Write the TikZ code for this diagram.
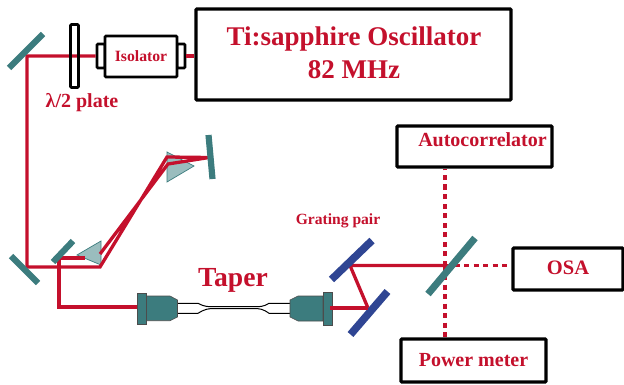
\documentclass[tikz,border=0pt]{standalone}
\usepackage{fontspec}
\setmainfont{Liberation Serif}
\definecolor{beam}{HTML}{C4102C}
\definecolor{teal1}{HTML}{3C7C7E}
\definecolor{prismc}{HTML}{9ABDBE}
\definecolor{blue1}{HTML}{2F4593}
\begin{document}
\begin{tikzpicture}[x=1pt,y=-1pt,
  box/.style={draw=black,line width=3.2pt,rounded corners=0.8pt,fill=white,inner sep=0pt},
  smallbox/.style={draw=black,line width=2.8pt,rounded corners=1pt,fill=white,inner sep=0pt},
  lbl/.style={text=beam,font=\bfseries,inner sep=0pt},
  beamline/.style={draw=beam,line width=3.3pt,line join=miter},
  dotbeam/.style={draw=beam,line width=3.6pt,dash pattern=on 5pt off 4.5pt},
  mirror/.style={draw=teal1,line width=6.2pt},
  grating/.style={draw=blue1,line width=7.6pt},
  prism/.style={draw=teal1,line width=0.7pt,fill=prismc},
  connbody/.style={draw=black!70,line width=0.6pt,fill=teal1},
  fibre/.style={draw=black,line width=1pt,fill=white}]
\useasboundingbox (0,0) rectangle (624,385);
% coordinates of the beam path
\coordinate (m1) at (27,56);
\coordinate (m2) at (27,267);
\coordinate (p1) at (100,267);
\coordinate (p1b) at (100,254);
\coordinate (p2) at (167,157);
\coordinate (p2b) at (168,164);
\coordinate (m3) at (209,157.5);
\coordinate (p3) at (85,258);
\coordinate (m4) at (59,258);
\coordinate (c1) at (59,307);
\coordinate (g1) at (350,265.5);
\coordinate (g2) at (368,308);
\coordinate (bs) at (445,265.5);
% prisms (under the beams)
\draw[prism] (77,255) -- (101,241) -- (101,265) -- cycle;
\draw[prism] (167,152) -- (194,166) -- (167,182) -- cycle;
% boxes
\node[box,minimum width=315pt,minimum height=91pt] (osc) at (353.5,54.5) {};
\node[lbl,font=\bfseries\fontsize{27}{33}\selectfont,align=center] (osct) at (354,53) {Ti:sapphire Oscillator\\82 MHz};
\node[smallbox,minimum width=8pt,minimum height=24pt] (isoL) at (101,56) {};
\node[smallbox,minimum width=8pt,minimum height=24pt] (isoR) at (181,56) {};
\node[smallbox,minimum width=72pt,minimum height=41pt] (iso) at (141,56.5) {};
\node[lbl,font=\bfseries\fontsize{15.7}{18}\selectfont] (isot) at (141,56) {Isolator};
\node[box,minimum width=155pt,minimum height=41pt] (ac) at (474.5,146.5) {};
\node[lbl,font=\bfseries\fontsize{20}{23}\selectfont] (act) at (482.5,140) {Autocorrelator};
\node[box,minimum width=110pt,minimum height=42pt] (osa) at (568,269) {};
\node[lbl,font=\bfseries\fontsize{20.5}{24}\selectfont] (osat) at (568,268) {OSA};
\node[box,minimum width=145pt,minimum height=43pt] (pm) at (473.5,360.5) {};
\node[lbl,font=\bfseries\fontsize{20}{23}\selectfont] (pmt) at (473.5,360) {Power meter};
% beam path
\draw[beamline] (isoR.east) -- (osc.west |- isoR.east);
\draw[beamline] (isoL.west) -- (m1) -- (m2) -- (p1) -- (p2) -- (m3) -- (p2b) -- (p1b);
\draw[beamline] (p3) -- (m4) -- (c1) -- (137,307);
\draw[beamline] (g2) -- (g1) -- (bs);
\draw[dotbeam] (bs) -- (bs |- ac.south);
\draw[dotbeam] (bs) -- (bs |- pm.north);
\draw[dotbeam] (bs) -- (osa.west |- bs);
% half-wave plate
\node[smallbox,fill=none,minimum width=8pt,minimum height=63pt] (hwp) at (74.5,56) {};
\node[lbl,font=\bfseries\fontsize{20}{23}\selectfont] (hwpt) at (82,103) {λ/2 plate};
% mirrors
\draw[mirror] (9,68) -- (43,34);
\draw[mirror] (11,256) -- (38,283);
\draw[mirror] (73,241) -- (53,262);
\draw[mirror] (208.5,135) -- (212.5,179);
\draw[mirror,line width=7pt] (475,238) -- (428,294);
% gratings
\draw[grating] (372,240.5) -- (331.5,279.5);
\draw[grating] (387.5,291.5) -- (350.5,334.5);
\node[lbl,font=\bfseries\fontsize{15.6}{18}\selectfont] (gpt) at (338,221) {Grating pair};
% taper fibre
\draw[fibre] (177,303.3) -- (198,303.3) .. controls (205,307) and (208,306.7) .. (215,306.7) -- (253,306.7)
  .. controls (260,306.7) and (263,307) .. (269,303.3) -- (291,303.3) -- (291,313.3) -- (269,313.3)
  .. controls (263,309) and (260,308.5) .. (253,308.5) -- (215,308.5)
  .. controls (208,308.5) and (205,309) .. (198,313.3) -- (177,313.3) -- cycle;
% fibre connectors
\draw[connbody] (146,296) -- (170,296) -- (177.5,300) -- (177.5,317) -- (170,320.7) -- (146,320.7) -- cycle;
\draw[connbody] (137,293) rectangle (146,324);
\draw[connbody] (323,296) -- (298,296) -- (290,300) -- (290,317) -- (298,321) -- (323,321) -- cycle;
\draw[connbody] (323,292) rectangle (332,325);
\draw[beamline] (330,308) -- (g2);
\node[lbl,font=\bfseries\fontsize{27.6}{31}\selectfont] (tapt) at (233,280) {Taper};
\end{tikzpicture}
\end{document}
